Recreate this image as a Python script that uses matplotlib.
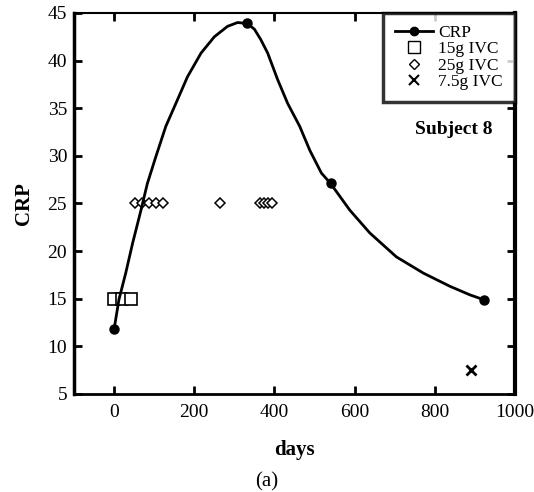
import matplotlib
matplotlib.use("Agg")
import matplotlib.pyplot as plt
from matplotlib.lines import Line2D

plt.rcParams['font.family'] = ['Liberation Serif', 'DejaVu Serif']

# CRP curve
curve_days = [0, 12, 29, 46, 67, 83, 104, 129, 154, 183, 217, 250, 283, 308, 332,
              350, 366, 383, 408, 433, 463, 488, 517, 540, 588, 638, 704, 771, 838, 888, 922]
curve_crp = [11.8, 14.9, 17.7, 20.8, 24.3, 27.1, 29.9, 33.1, 35.5, 38.3, 40.8, 42.5, 43.6, 44.0, 43.9,
             43.3, 42.2, 40.8, 38.0, 35.5, 33.1, 30.6, 28.2, 27.1, 24.3, 21.9, 19.4, 17.7, 16.3, 15.4, 14.9]
# Measured CRP points (markers)
crp_days = [0, 332, 540, 922]
crp_vals = [11.8, 43.9, 27.1, 14.9]
# Dose markers
ivc15_days = [0, 20, 41]
ivc15_vals = [15, 15, 15]
ivc25_days = [52, 70, 88, 105, 122, 264, 365, 375, 385, 395]
ivc25_vals = [25] * 10
ivc75_days = [890]
ivc75_vals = [7.5]

fig = plt.figure(figsize=(5.34, 4.92), dpi=100)
ax = fig.add_axes([0.1386, 0.1992, 0.8258, 0.7744])

ax.plot(curve_days, curve_crp, color='black', lw=2.0, zorder=3)
ax.plot(crp_days, crp_vals, 'o', color='black', ms=6.5, zorder=4)
ax.plot(ivc15_days, ivc15_vals, 's', mfc='white', mec='black', ms=8.5, mew=1.2, ls='none', zorder=2)
ax.plot(ivc25_days, ivc25_vals, 'D', mfc='white', mec='black', ms=5, mew=1.1, ls='none', zorder=2)
ax.plot(ivc75_days, ivc75_vals, 'x', color='black', ms=7, mew=2.0, ls='none', zorder=2)

ax.set_xlim(-100, 1000)
ax.set_ylim(5, 45)
ax.set_xticks([0, 200, 400, 600, 800, 1000])
ax.set_yticks([5, 10, 15, 20, 25, 30, 35, 40, 45])
ax.tick_params(direction='in', length=6, width=2, labelsize=14, top=True, right=True)
ax.tick_params(axis='x', pad=7)
ax.tick_params(axis='y', pad=5)
ax.spines['left'].set_linewidth(2.5)
ax.spines['right'].set_linewidth(3)
ax.spines['bottom'].set_linewidth(2)
ax.spines['top'].set_linewidth(1.5)

ax.set_xlabel('days', fontsize=15, fontweight='bold', labelpad=14)
ax.set_ylabel('CRP', fontsize=15, fontweight='bold', labelpad=10)

handles = [
    Line2D([], [], color='black', lw=2, marker='o', ms=6),
    Line2D([], [], ls='none', marker='s', mfc='white', mec='black', ms=8),
    Line2D([], [], ls='none', marker='D', mfc='white', mec='black', ms=5),
    Line2D([], [], ls='none', marker='x', color='black', ms=7, mew=1.5),
]
labels = ['CRP', '15g IVC', '25g IVC', '7.5g IVC']
leg = ax.legend(handles, labels, loc='upper right', bbox_to_anchor=(1.0, 1.0),
                fontsize=12.5, frameon=True, fancybox=False, edgecolor='black',
                handlelength=2.2, handletextpad=0.3, labelspacing=0.0,
                borderpad=0.7, borderaxespad=0)
leg.get_frame().set_linewidth(2.5)

ax.text(848, 32.8, 'Subject 8', fontsize=14, fontweight='bold', ha='center', va='center')
fig.text(0.5, 0.021, '(a)', fontsize=15, ha='center', va='center')

fig.savefig('out.png', dpi=100)
